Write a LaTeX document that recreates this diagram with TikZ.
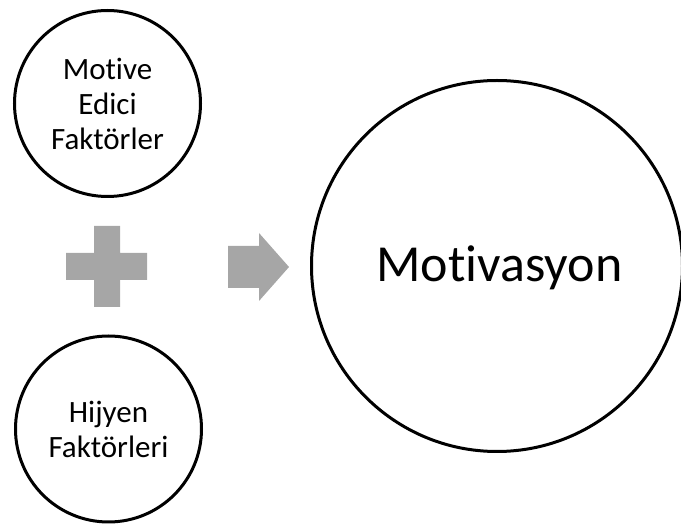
\documentclass[tikz,border=0pt]{standalone}
\usepackage{fontspec}
\setmainfont{Carlito}[Ligatures={NoCommon,NoRequired,NoContextual}]
\definecolor{shapegray}{HTML}{A6A6A6}
\tikzset{
  ring/.style={circle, draw=black, line width=3pt, fill=white, inner sep=0pt, align=center},
  small/.style={ring, minimum size=186pt, font=\fontsize{31}{35}\selectfont},
  big/.style={ring, minimum size=371pt, font=\fontsize{52}{60}\selectfont},
  grayshape/.style={fill=shapegray, draw=none}
}
\begin{document}
\begin{tikzpicture}[x=1pt,y=-1pt]
\useasboundingbox (0,0) rectangle (681,526);
\clip (0,0) rectangle (681,526);
\node[small] (motive) at (107.5,103.5) {Motive\\Edici\\Faktörler};
\node[small] (hijyen) at (108.5,429) {Hijyen\\Faktörleri};
\node[big] (motivasyon) at (497,266) {};
\node[anchor=base, font=\fontsize{52}{60}\selectfont, inner sep=0pt] (motlabel) at (499.5,282) {Motivasyon};
% plus sign
\path[grayshape] (94,226) -- (120,226) -- (120,253) -- (147,253) -- (147,280) -- (120,280) -- (120,307) -- (94,307) -- (94,280) -- (66,280) -- (66,253) -- (94,253) -- cycle;
% arrow
\path[grayshape] (228,246) -- (259,246) -- (259,233) -- (289,267) -- (259,301) -- (259,288) -- (228,288) -- cycle;
\end{tikzpicture}
\end{document}
